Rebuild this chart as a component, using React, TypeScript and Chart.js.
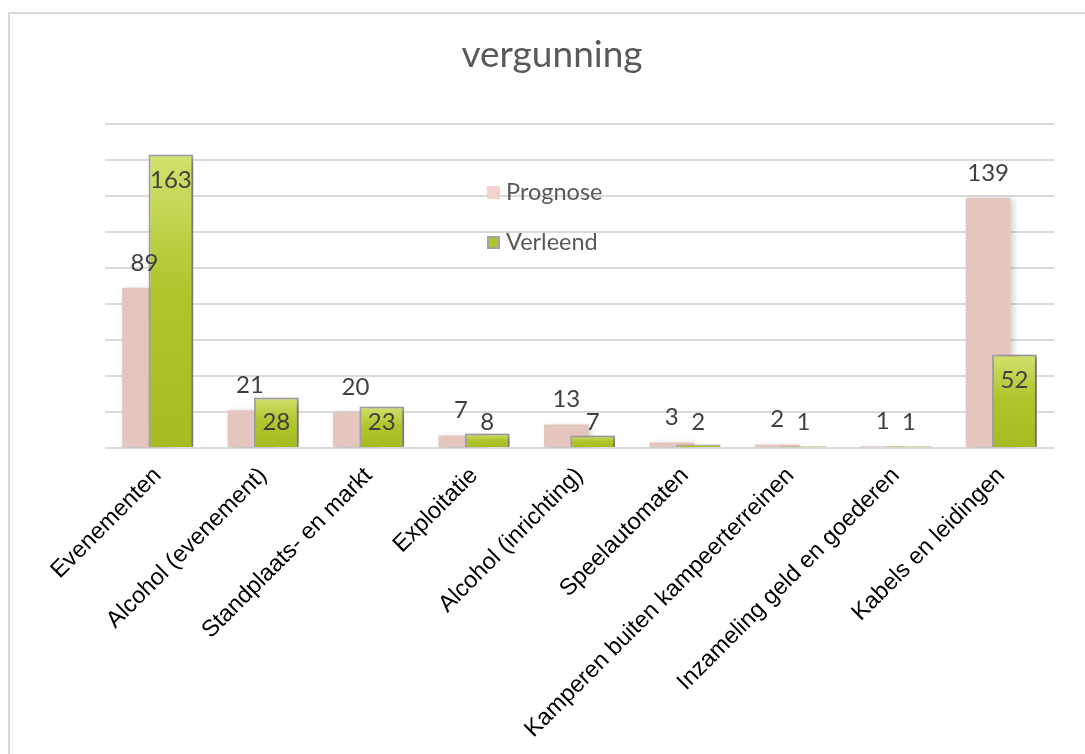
import React, { useEffect, useRef } from "react";
import { Chart, registerables } from "chart.js";

Chart.register(...registerables);

// ---- data ----
const categories = [
  "Evenementen",
  "Alcohol (evenement)",
  "Standplaats- en markt",
  "Exploitatie",
  "Alcohol (inrichting)",
  "Speelautomaten",
  "Kamperen buiten kampeerterreinen",
  "Inzameling geld en goederen",
  "Kabels en leidingen",
];
const prognose = [89, 21, 20, 7, 13, 3, 2, 1, 139];
const verleend = [163, 28, 23, 8, 7, 2, 1, 1, 52];
const seriesNames = ["Prognose", "Verleend"];
const chartTitle = "vergunning";
const yMax = 180;
const yStep = 20;

// ---- styles ----
const PINK = "#e5c6bf";
const PINK_LEGEND = "#f4d2cb";
const GREEN_TOP = "#d3e16f";
const GREEN_MID = "#b1c52d";
const GREEN_BOT = "#a6bb21";
const GREEN_BORDER = "#a3a3a3";
const GRID = "#dadada";
const UI_FONT = "Lato, 'Open Sans', sans-serif";

function greenFill(ctx: any) {
  const chart = ctx.chart;
  if (!chart.chartArea || ctx.type !== "data" || !chart.scales.y) return GREEN_MID;
  const y = chart.scales.y.getPixelForValue(ctx.raw);
  const base = chart.scales.y.getPixelForValue(0);
  if (base - y < 2) return GREEN_MID;
  const g = chart.ctx.createLinearGradient(0, y, 0, base);
  g.addColorStop(0, GREEN_TOP);
  g.addColorStop(0.45, GREEN_MID);
  g.addColorStop(1, GREEN_BOT);
  return g;
}

function setShadow(c: CanvasRenderingContext2D, green: boolean) {
  if (green) {
    c.shadowColor = "rgba(0,0,0,0.38)";
    c.shadowBlur = 7;
    c.shadowOffsetX = 4;
    c.shadowOffsetY = 2;
  } else {
    c.shadowColor = "rgba(0,0,0,0.16)";
    c.shadowBlur = 6;
    c.shadowOffsetX = 3;
    c.shadowOffsetY = 1;
  }
}

// Draw pink (dataset 0) first, then green (dataset 1) on top of it.
const shadowPlugin = {
  id: "barShadow",
  beforeDatasetDraw(chart: any, args: any) {
    if (args.index === 1) return false;
    const c = chart.ctx;
    c.save();
    setShadow(c, false);
    return true;
  },
  afterDatasetDraw(chart: any, args: any) {
    const c = chart.ctx;
    c.restore();
    if (args.index === 0) {
      const meta = chart.getDatasetMeta(1);
      c.save();
      setShadow(c, true);
      meta.data.forEach((el: any) => el.draw(c, chart.chartArea));
      c.restore();
    }
  },
};

const labelPlugin = {
  id: "valueLabels",
  afterDatasetsDraw(chart: any) {
    const c = chart.ctx;
    c.save();
    c.font = "24px " + UI_FONT;
    c.fillStyle = "#404040";
    c.textAlign = "center";
    c.textBaseline = "middle";
    chart.data.datasets.forEach((ds: any, di: number) => {
      const meta = chart.getDatasetMeta(di);
      meta.data.forEach((bar: any, i: number) => {
        const v = ds.data[i];
        let y: number;
        if (di === 0) {
          y = bar.y - 25;
        } else {
          y = Math.min(bar.y + 26, bar.base - 25);
        }
        c.fillText(String(v), bar.x, y);
      });
    });
    c.restore();
  },
};

const legendPlugin = {
  id: "innerLegend",
  afterDraw(chart: any) {
    const c = chart.ctx;
    const x = 487;
    const ys = [192.5, 242.5];
    c.save();
    c.font = "23.5px " + UI_FONT;
    c.textAlign = "left";
    c.textBaseline = "middle";
    seriesNames.forEach((name, i) => {
      const y = ys[i];
      if (i === 0) {
        c.fillStyle = PINK_LEGEND;
        c.fillRect(x, y - 6.5, 13, 13);
      } else {
        c.fillStyle = GREEN_MID;
        c.fillRect(x, y - 6.5, 13, 13);
        c.strokeStyle = GREEN_BORDER;
        c.lineWidth = 2;
        c.strokeRect(x + 1, y - 5.5, 11, 11);
      }
      c.fillStyle = "#595959";
      c.fillText(name, x + 19, y);
    });
    c.restore();
  },
};

export default function App() {
  const canvasRef = useRef<HTMLCanvasElement | null>(null);

  useEffect(() => {
    const canvas = canvasRef.current;
    if (!canvas) return;
    const chart = new Chart(canvas, {
      type: "bar",
      data: {
        labels: categories,
        datasets: [
          {
            label: seriesNames[0],
            data: prognose,
            backgroundColor: PINK,
            borderWidth: 0,
            categoryPercentage: 0.5,
            barPercentage: 1.7,
          },
          {
            label: seriesNames[1],
            data: verleend,
            backgroundColor: greenFill as any,
            borderColor: GREEN_BORDER,
            borderWidth: 2,
            categoryPercentage: 0.5,
            barPercentage: 1.7,
          },
        ],
      },
      options: {
        responsive: false,
        animation: false,
        devicePixelRatio: 1,
        layout: { padding: { left: 50, right: 31, top: 0, bottom: 0 } },
        plugins: {
          legend: { display: false },
          tooltip: { enabled: false },
          title: {
            display: true,
            text: chartTitle,
            color: "#595959",
            font: { family: UI_FONT, size: 37, weight: "normal" },
            padding: { top: 33, bottom: 46.6 },
          },
        },
        scales: {
          x: {
            grid: { display: false, drawTicks: false },
            border: { display: false },
            ticks: {
              autoSkip: false,
              minRotation: 45,
              maxRotation: 45,
              padding: 14,
              color: "#000000",
              font: { family: "'Liberation Sans', Arial, sans-serif", size: 23.5 },
            },
            afterFit: (s: any) => {
              s.height = 306;
              s.paddingLeft = 0;
              s.paddingRight = 0;
            },
          },
          y: {
            min: 0,
            max: yMax,
            grid: {
              color: GRID,
              lineWidth: 2,
              drawTicks: false,
            },
            border: { display: false },
            ticks: { display: false, stepSize: yStep },
            afterFit: (s: any) => {
              s.width = 55;
            },
          },
        },
      },
      plugins: [shadowPlugin, labelPlugin, legendPlugin],
    } as any);
    return () => chart.destroy();
  }, []);

  return (
    <div>
      <div
        style={{
          position: "fixed",
          left: 8,
          top: 12,
          width: 1200,
          height: 900,
          borderLeft: "2px solid #d9d9d9",
          borderTop: "2px solid #d9d9d9",
          boxSizing: "border-box",
        }}
      />
      <canvas
        ref={canvasRef}
        width={1085}
        height={754}
        style={{ position: "fixed", left: 0, top: 0, width: 1085, height: 754 }}
      />
    </div>
  );
}
